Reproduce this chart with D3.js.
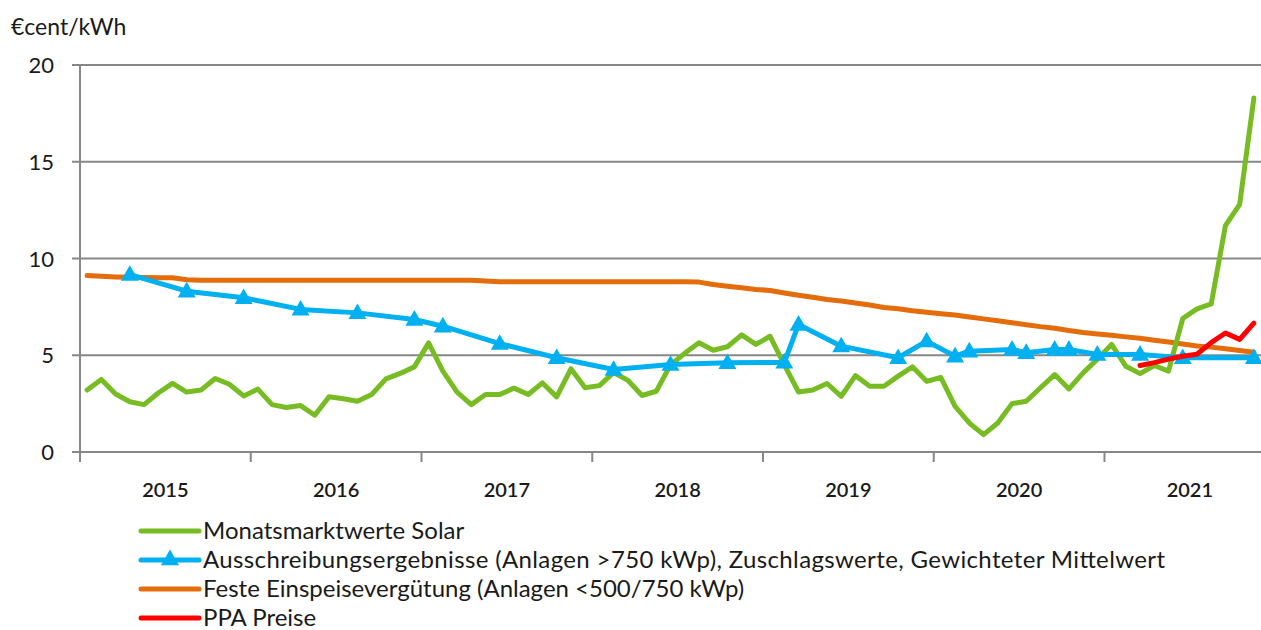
<!DOCTYPE html>
<html>
<head>
<meta charset="utf-8">
<script src="https://cdn.jsdelivr.net/npm/d3@7"></script>
<style>
  body { margin: 0; background: #fff; }
  text { font-family: Lato, "Open Sans", sans-serif; fill: #1a1a1a; }
</style>
</head>
<body>
<div id="chart"></div>
<script>
// years shown on the x axis, one category per month (Jan 2015 .. Nov 2021)
const years = ["2015", "2016", "2017", "2018", "2019", "2020", "2021"];
const months = [];
years.forEach(function (y) {
  for (let m = 1; m <= 12; m++) {
    if (y === "2021" && m > 11) break;
    months.push(y + "-" + String(m).padStart(2, "0"));
  }
});

// Monatsmarktwerte Solar (monthly)
const solar = [3.2, 3.75, 3.0, 2.6, 2.45, 3.05, 3.55, 3.1, 3.2, 3.8, 3.5, 2.9,
  3.25, 2.45, 2.3, 2.4, 1.9, 2.85, 2.75, 2.62, 2.97, 3.78, 4.06, 4.4,
  5.64, 4.18, 3.09, 2.45, 2.97, 2.97, 3.3, 2.97, 3.57, 2.85, 4.3, 3.32,
  3.43, 4.1, 3.71, 2.92, 3.14, 4.5, 5.1, 5.65, 5.26, 5.44, 6.05, 5.56,
  5.98, 4.5, 3.1, 3.2, 3.54, 2.88, 3.95, 3.4, 3.4, 3.92, 4.4, 3.65,
  3.85, 2.36, 1.5, 0.9, 1.5, 2.5, 2.62, 3.32, 4.0, 3.26, 4.09, 4.8,
  5.56, 4.43, 4.05, 4.47, 4.18, 6.9, 7.4, 7.65, 11.7, 12.8, 18.3];

// Ausschreibungsergebnisse: month of auction and weighted average
const auctionMonths = ["2015-04", "2015-08", "2015-12", "2016-04", "2016-08", "2016-12",
  "2017-02", "2017-06", "2017-10", "2018-02", "2018-06", "2018-10", "2019-02", "2019-03",
  "2019-06", "2019-10", "2019-12", "2020-02", "2020-03", "2020-06", "2020-07", "2020-09",
  "2020-10", "2020-12", "2021-03", "2021-06", "2021-11"];
const auctionValues = [9.17, 8.31, 7.97, 7.37, 7.19, 6.85, 6.5, 5.6, 4.87, 4.26, 4.52, 4.61,
  4.63, 6.59, 5.47, 4.87, 5.73, 4.95, 5.21, 5.3, 5.13, 5.3, 5.3, 5.04, 5.04, 4.87, 4.87];

// Feste Einspeiseverguetung (monthly)
const feedIn = [9.12, 9.08, 9.05, 9.03, 9.02, 9.01, 9.0, 8.9, 8.88, 8.88, 8.88, 8.88,
  8.88, 8.88, 8.88, 8.88, 8.88, 8.88, 8.88, 8.88, 8.88, 8.88, 8.88, 8.88,
  8.88, 8.88, 8.88, 8.88, 8.84, 8.8, 8.8, 8.8, 8.8, 8.8, 8.8, 8.8,
  8.8, 8.8, 8.8, 8.8, 8.8, 8.8, 8.8, 8.78, 8.66, 8.57, 8.49, 8.4,
  8.35, 8.22, 8.1, 8.0, 7.88, 7.8, 7.7, 7.6, 7.47, 7.4, 7.3, 7.22,
  7.15, 7.08, 6.98, 6.88, 6.78, 6.68, 6.58, 6.48, 6.4, 6.28, 6.18, 6.1,
  6.03, 5.95, 5.88, 5.78, 5.68, 5.58, 5.48, 5.42, 5.34, 5.25, 5.16];

// PPA Preise
const ppaMonths = ["2021-03", "2021-04", "2021-05", "2021-06", "2021-07", "2021-08",
  "2021-09", "2021-10", "2021-11"];
const ppaValues = [4.47, 4.62, 4.8, 4.95, 5.05, 5.65, 6.15, 5.82, 6.66];

const yTicks = [0, 5, 10, 15, 20];

const colors = { solar: "#78bc23", auction: "#00b0f0", feed: "#e46c0a", ppa: "#ff0000", grid: "#878787" };

const W = 1261, H = 630;
const margin = { top: 65, right: 0, bottom: 178, left: 80 };

const svg = d3.select("#chart").append("svg")
  .attr("width", W).attr("height", H);

const x = d3.scaleBand().domain(months).range([margin.left, W - margin.right]).padding(0);
const y = d3.scaleLinear().domain([0, 20]).range([H - margin.bottom, margin.top]);
const cx = function (m) { return x(m) + x.bandwidth() / 2; };

// y label
svg.append("text").attr("x", 11).attr("y", 35)
  .attr("font-size", 23).text("€cent/kWh");

// gridlines + y axis ticks
svg.append("g").selectAll("line").data(yTicks.filter(function (d) { return d > 0; }))
  .join("line")
  .attr("x1", margin.left - 8).attr("x2", W)
  .attr("y1", function (d) { return y(d); }).attr("y2", function (d) { return y(d); })
  .attr("stroke", colors.grid).attr("stroke-width", 2);

svg.append("g").selectAll("text").data(yTicks).join("text")
  .attr("x", 54).attr("y", function (d) { return y(d) + 8; })
  .attr("text-anchor", "end").attr("font-size", 22)
  .text(function (d) { return d; });

// y axis line
svg.append("line").attr("x1", margin.left).attr("x2", margin.left)
  .attr("y1", y(20)).attr("y2", y(0))
  .attr("stroke", colors.grid).attr("stroke-width", 2);

// x axis line
svg.append("line").attr("x1", margin.left - 8).attr("x2", W)
  .attr("y1", y(0)).attr("y2", y(0))
  .attr("stroke", colors.grid).attr("stroke-width", 2);

// year ticks and labels
const yearStarts = years.map(function (yr) { return x(yr + "-01"); });
svg.append("g").selectAll("line").data(yearStarts).join("line")
  .attr("x1", function (d) { return d; }).attr("x2", function (d) { return d; })
  .attr("y1", y(0)).attr("y2", y(0) + 10)
  .attr("stroke", colors.grid).attr("stroke-width", 2);

svg.append("g").selectAll("text").data(years).join("text")
  .attr("x", function (yr) { return x(yr + "-01") + 6 * x.bandwidth(); })
  .attr("y", y(0) + 45)
  .attr("text-anchor", "middle").attr("font-size", 20).attr("font-weight", 600)
  .text(function (d) { return d; });

const line = d3.line().x(function (d) { return cx(d[0]); }).y(function (d) { return y(d[1]); });

function drawLine(pts, color) {
  svg.append("path").datum(pts)
    .attr("d", line)
    .attr("fill", "none").attr("stroke", color)
    .attr("stroke-width", 5).attr("stroke-linejoin", "round").attr("stroke-linecap", "round");
}

const tri = d3.symbol().type(d3.symbolTriangle).size(140);

drawLine(months.map(function (m, i) { return [m, feedIn[i]]; }), colors.feed);
drawLine(months.map(function (m, i) { return [m, solar[i]]; }), colors.solar);
const auctionPts = auctionMonths.map(function (m, i) { return [m, auctionValues[i]]; });
drawLine(auctionPts, colors.auction);
svg.append("g").selectAll("path").data(auctionPts).join("path")
  .attr("d", tri)
  .attr("transform", function (d) { return "translate(" + cx(d[0]) + "," + (y(d[1]) + 1) + ")"; })
  .attr("fill", colors.auction);
drawLine(ppaMonths.map(function (m, i) { return [m, ppaValues[i]]; }), colors.ppa);

// legend
const legend = [
  { label: "Monatsmarktwerte Solar", color: colors.solar, marker: false },
  { label: "Ausschreibungsergebnisse (Anlagen >750 kWp), Zuschlagswerte, Gewichteter Mittelwert", color: colors.auction, marker: true },
  { label: "Feste Einspeisevergütung (Anlagen <500/750 kWp)", color: colors.feed, marker: false },
  { label: "PPA Preise", color: colors.ppa, marker: false }
];
const lg = svg.append("g").selectAll("g").data(legend).join("g")
  .attr("transform", function (d, i) { return "translate(0," + (531 + i * 29) + ")"; });
lg.append("line").attr("x1", 141).attr("x2", 199).attr("y1", 0).attr("y2", 0)
  .attr("stroke", function (d) { return d.color; }).attr("stroke-width", 5)
  .attr("stroke-linecap", "round");
lg.filter(function (d) { return d.marker; }).append("path")
  .attr("d", tri).attr("transform", "translate(170,0)")
  .attr("fill", function (d) { return d.color; });
lg.append("text").attr("x", 203).attr("y", 8).attr("font-size", 24)
  .attr("textLength", function (d, i) { return i === 1 ? 962 : null; })
  .text(function (d) { return d.label; });
</script>
</body>
</html>
